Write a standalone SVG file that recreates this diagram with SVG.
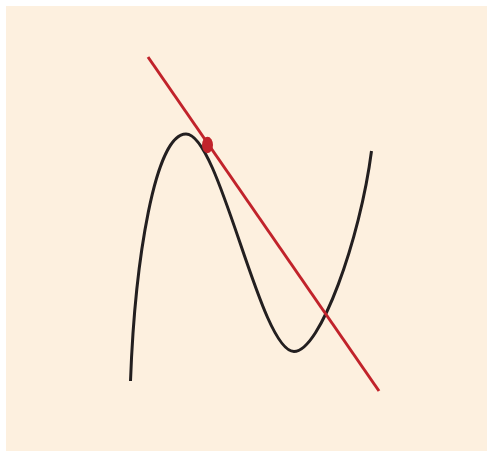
<svg xmlns="http://www.w3.org/2000/svg" width="493" height="457" viewBox="0 0 493 457">
  <style>
    .curve { fill: none; stroke: #231f20; stroke-width: 3; }
    .tangent { fill: none; stroke: #c1232b; stroke-width: 3; }
    .point { fill: #c1232b; }
  </style>
  <rect x="6" y="6" width="481" height="445" fill="#fdf0df"/>
  <path class="curve" d="M130.5,381 C135,260 155,134 186,134 C220,134 260,351.5 294,351.5 C320,351.5 360,240 371.5,151"/>
  <line class="tangent" x1="148" y1="57" x2="379" y2="391"/>
  <ellipse class="point" cx="207.5" cy="145" rx="5.5" ry="8.2"/>
</svg>
